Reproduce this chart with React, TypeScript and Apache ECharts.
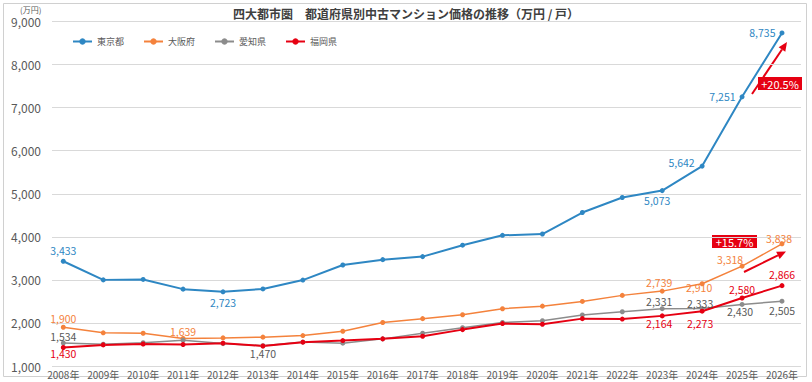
import React, { useEffect, useRef } from 'react';
import * as echarts from 'echarts';

// 年次（横軸）
const years = [2008, 2009, 2010, 2011, 2012, 2013, 2014, 2015, 2016, 2017, 2018, 2019, 2020, 2021, 2022, 2023, 2024, 2025, 2026];

// 中古マンション価格（万円 / 戸）
const tokyo = [3433, 3000, 3010, 2785, 2723, 2790, 2995, 3345, 3470, 3540, 3805, 4035, 4065, 4564, 4912, 5073, 5642, 7251, 8735];
const osaka = [1900, 1770, 1760, 1639, 1653, 1670, 1707, 1807, 2010, 2100, 2190, 2330, 2390, 2500, 2640, 2739, 2910, 3318, 3838];
const aichi = [1534, 1505, 1540, 1600, 1520, 1470, 1555, 1530, 1630, 1760, 1890, 2010, 2050, 2185, 2260, 2331, 2333, 2430, 2505];
const fukuoka = [1430, 1490, 1510, 1500, 1530, 1465, 1553, 1590, 1630, 1690, 1845, 1985, 1970, 2100, 2090, 2164, 2273, 2580, 2866];

const yTicks = [1000, 2000, 3000, 4000, 5000, 6000, 7000, 8000, 9000];

const FONT = "'Noto Sans CJK JP', 'Noto Sans', sans-serif";
const TEXT_GRAY = '#595959';

// 値ラベルを表示する年と配置（pos: 基準位置, dx/dy: 微調整）
type LabelSpot = { pos: string; dx?: number; dy?: number };
const tokyoLabelAt: Record<number, LabelSpot> = {
  2008: { pos: 'top', dy: 1.5 },
  2012: { pos: 'bottom', dy: -1.5 },
  2023: { pos: 'bottom', dx: -5, dy: -2.5 },
  2024: { pos: 'left', dy: -4 },
  2025: { pos: 'left', dx: 1 },
  2026: { pos: 'left', dx: 1 },
};
const osakaLabelAt: Record<number, LabelSpot> = {
  2008: { pos: 'top', dy: 3.5 },
  2011: { pos: 'top', dy: 6 },
  2023: { pos: 'top', dx: -3, dy: 4 },
  2024: { pos: 'bottom', dx: -3, dy: -9 },
  2025: { pos: 'top', dx: -12, dy: 5.5 },
  2026: { pos: 'top', dx: -3, dy: 7.5 },
};
const aichiLabelAt: Record<number, LabelSpot> = {
  2008: { pos: 'top', dy: 5.5 },
  2013: { pos: 'bottom', dy: -5 },
  2023: { pos: 'top', dx: -3, dy: 5 },
  2024: { pos: 'top', dx: -2, dy: 7.5 },
  2025: { pos: 'bottom', dx: -2, dy: -5 },
  2026: { pos: 'bottom', dy: -3.5 },
};
const fukuokaLabelAt: Record<number, LabelSpot> = {
  2008: { pos: 'bottom', dy: -6 },
  2023: { pos: 'bottom', dx: -3, dy: -5 },
  2024: { pos: 'bottom', dx: -2, dy: -0.5 },
  2025: { pos: 'top', dy: 4.5 },
  2026: { pos: 'top', dy: 1.5 },
};

const fmt = (v: number) => v.toLocaleString('en-US');

function makeSeries(name: string, values: number[], color: string, labelColor: string, labelAt: Record<number, LabelSpot>, width: number) {
  return {
    type: 'line',
    name,
    color,
    symbol: 'circle',
    symbolSize: 5,
    lineStyle: { width, color },
    itemStyle: { color },
    label: {
      show: false,
      color: labelColor,
      fontSize: 10.5,
      lineHeight: 10,
      fontFamily: FONT,
      formatter: (p: any) => fmt(p.value[1]),
    },
    labelLayout: (p: any) => {
      const spot = labelAt[years[p.dataIndex]];
      return spot ? { dx: spot.dx || 0, dy: spot.dy || 0, hideOverlap: false } : {};
    },
    data: years.map((y, i) => {
      const l = labelAt[y];
      return l ? { value: [y, values[i]], label: { show: true, position: l.pos } } : { value: [y, values[i]] };
    }),
  };
}

// 矢印（線＋三角の頭）
function arrow(x1: number, y1: number, x2: number, y2: number, color: string) {
  const dx = x2 - x1;
  const dy = y2 - y1;
  const len = Math.sqrt(dx * dx + dy * dy);
  const ux = dx / len;
  const uy = dy / len;
  const head = 9;
  const half = 4;
  const bx = x2 - ux * head;
  const by = y2 - uy * head;
  const px = -uy;
  const py = ux;
  return [
    { type: 'line', silent: true, shape: { x1, y1, x2: bx, y2: by }, style: { stroke: color, lineWidth: 2 } },
    {
      type: 'polygon',
      silent: true,
      shape: { points: [[x2, y2], [bx + px * half, by + py * half], [bx - px * half, by - py * half]] },
      style: { fill: color },
    },
  ];
}

function badge(x: number, y: number, w: number, h: number, text: string) {
  return [
    { type: 'rect', silent: true, shape: { x, y, width: w, height: h }, style: { fill: '#E60012' } },
    {
      type: 'text',
      silent: true,
      x: x + w / 2,
      y: y + h / 2 + 0.5,
      style: { text, fill: '#ffffff', font: `11px ${FONT}`, align: 'center', verticalAlign: 'middle' },
    },
  ];
}

const growth = (a: number[]) => `+${((a[a.length - 1] / a[a.length - 2] - 1) * 100).toFixed(1)}%`;

export default function App() {
  const ref = useRef<HTMLDivElement>(null);

  useEffect(() => {
    if (!ref.current) return;
    const chart = echarts.init(ref.current, undefined, { renderer: 'svg' });
    chart.setOption({
      animation: false,
      backgroundColor: '#ffffff',
      textStyle: { fontFamily: FONT },
      title: {
        text: '四大都市圏　都道府県別中古マンション価格の推移（万円 / 戸）',
        left: 'center',
        top: 7,
        padding: 0,
        textStyle: { fontSize: 12, fontWeight: 'bold', color: '#404040', fontFamily: FONT },
      },
      legend: {
        data: ['東京都', '大阪府', '愛知県', '福岡県'],
        left: 72,
        top: 37,
        padding: 0,
        itemWidth: 19,
        itemHeight: 8,
        itemGap: 19,
        textStyle: { fontSize: 9, color: TEXT_GRAY, fontFamily: FONT },
      },
      grid: { left: 52, right: 11, top: 21.5, bottom: 16, containLabel: false },
      xAxis: {
        type: 'value',
        min: 2007.717,
        max: 2026.476,
        axisLine: { show: false },
        axisTick: { show: false },
        splitLine: { show: false },
        axisLabel: {
          customValues: years,
          formatter: (v: number) => `${v}年`,
          fontSize: 10,
          color: TEXT_GRAY,
          margin: 3,
          fontFamily: FONT,
        },
      },
      yAxis: {
        type: 'value',
        min: yTicks[0],
        max: yTicks[yTicks.length - 1],
        interval: 1000,
        axisLine: { show: false },
        axisTick: { show: false },
        splitLine: { lineStyle: { color: '#d9d9d9', width: 1 } },
        axisLabel: {
          formatter: (v: number) => fmt(v),
          fontSize: 12,
          lineHeight: 12,
          color: TEXT_GRAY,
          margin: 11,
          fontFamily: FONT,
        },
      },
      graphic: [
        {
          type: 'rect',
          silent: true,
          shape: { x: 3.5, y: 3.5, width: 803, height: 373 },
          style: { fill: 'none', stroke: '#d0d0d0', lineWidth: 1 },
        },
        {
          type: 'text',
          silent: true,
          x: 20,
          y: 5,
          style: { text: '(万円)', fill: TEXT_GRAY, font: `8px ${FONT}`, lineHeight: 8 },
        },
        ...arrow(752, 94, 787, 42, '#E60012'),
        ...badge(758, 77, 44, 13, growth(tokyo)),
        ...arrow(744, 272, 786, 251.5, '#E60012'),
        ...badge(712, 235, 45, 13, growth(osaka)),
      ],
      series: [
        makeSeries('東京都', tokyo, '#2E87C3', '#2E87C3', tokyoLabelAt, 2),
        makeSeries('大阪府', osaka, '#F4823C', '#F4823C', osakaLabelAt, 1.5),
        makeSeries('愛知県', aichi, '#8C8C8C', TEXT_GRAY, aichiLabelAt, 1.5),
        makeSeries('福岡県', fukuoka, '#E60012', '#E60012', fukuokaLabelAt, 2),
      ],
    });
    return () => chart.dispose();
  }, []);

  return <div ref={ref} style={{ position: 'absolute', left: 0, top: 0, width: 812, height: 382 }} />;
}
